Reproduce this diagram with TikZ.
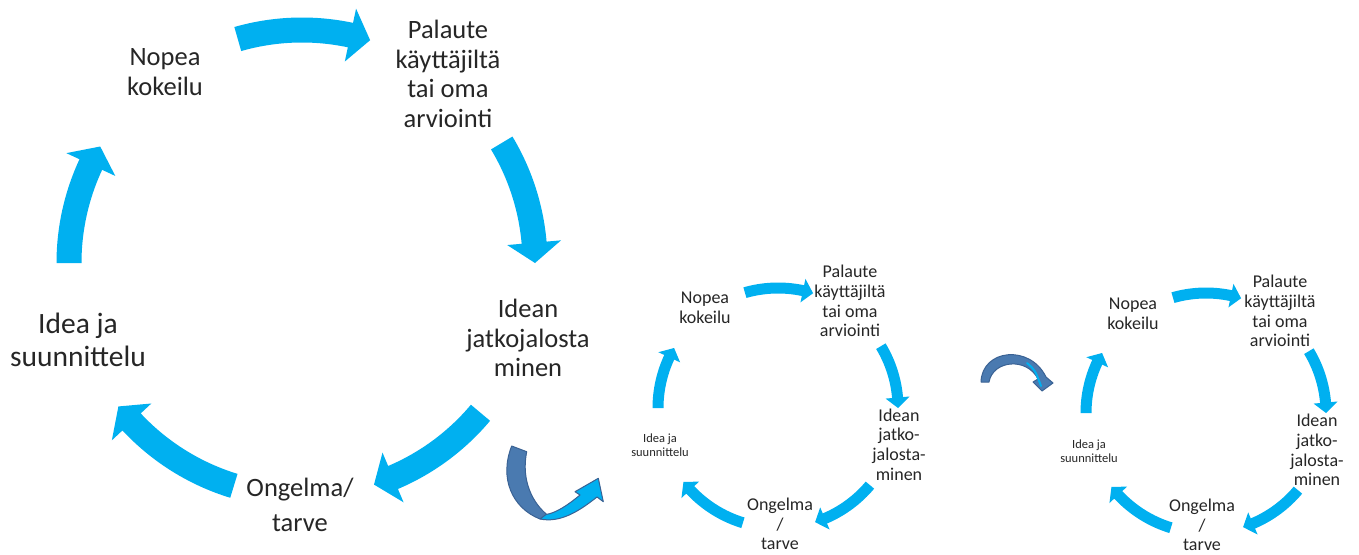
\documentclass[tikz,border=0pt]{standalone}
\usepackage{fontspec}
\setmainfont{Carlito}
\definecolor{arrcyan}{RGB}{0,176,240}
\definecolor{arrdark}{RGB}{74,122,176}
\definecolor{arrline}{RGB}{58,98,148}
\definecolor{txtcol}{RGB}{38,38,38}
% #1 center, #2 radius, #3 half band width, #4 start angle, #5 tip angle, #6 head length (deg), #7 half head width
\newcommand\cycArrow[7]{%
  \pgfmathsetmacro\cyRo{#2+#3}%
  \pgfmathsetmacro\cyRi{#2-#3}%
  \pgfmathsetmacro\cyHo{#2+#7}%
  \pgfmathsetmacro\cyHi{#2-#7}%
  \pgfmathsetmacro\cyB{#5-#6}%
  \fill[arrcyan,shift={#1}] (#4:\cyRo) arc[start angle=#4,end angle=\cyB,radius=\cyRo]
    -- (\cyB:\cyHo) -- (#5:#2) -- (\cyB:\cyHi) -- (\cyB:\cyRi)
    arc[start angle=\cyB,end angle=#4,radius=\cyRi] -- cycle;}
\tikzset{
  bigtxt/.style={font=\fontsize{26.5}{29.5}\selectfont, align=center, inner sep=0pt, text=txtcol},
  largetxt/.style={font=\fontsize{29.5}{32.5}\selectfont, align=center, inner sep=0pt, text=txtcol},
  midtxt/.style={font=\fontsize{18}{19.7}\selectfont, align=center, inner sep=0pt, text=txtcol},
  tinytxt/.style={font=\fontsize{12.5}{14}\selectfont, align=center, inner sep=0pt, text=txtcol},
  darkarrow/.style={fill=arrdark, draw=arrline, line width=1pt, line join=round},
  lightarrow/.style={fill=arrcyan, draw=arrline, line width=1pt, line join=round}
}
\begin{document}
\begin{tikzpicture}[x=1pt,y=-1pt]
\useasboundingbox (0,0) rectangle (1359,554);
\fill[white] (0,0) rectangle (1359,554);

% ---- big cycle
\cycArrow{(302,263)}{233}{12.5}{180}{210}{5}{27}
\cycArrow{(302,263)}{233}{12.5}{254}{287}{5}{27}
\cycArrow{(302,263)}{233}{12.5}{329}{360}{5}{27}
\cycArrow{(302,263)}{233}{12.5}{40}{72}{5}{27}
\cycArrow{(302,263)}{233}{12.5}{107}{142}{5}{27}

\node[bigtxt] (bnopea) at (165,72) {Nopea\\kokeilu};
\node[bigtxt] (bpal) at (448,74) {Palaute\\käyttäjiltä\\tai oma\\arviointi};
\node[bigtxt] (bidean) at (528,338) {Idean\\jatkojalosta\\minen};
\node[bigtxt] (bong) at (300,505) {Ongelma/\\[6pt]tarve};
\node[largetxt] (bidea) at (78,340) {Idea ja\\suunnittelu};

% ---- small cycle 1
\cycArrow{(778,408)}{120}{5.5}{180}{210}{5}{12}
\cycArrow{(778,408)}{120}{5.5}{254}{287}{5}{12}
\cycArrow{(778,408)}{120}{5.5}{329}{360}{5}{12}
\cycArrow{(778,408)}{120}{5.5}{40}{72}{5}{12}
\cycArrow{(778,408)}{120}{5.5}{107}{142}{5}{12}

\node[midtxt] (anopea) at (705,307.5) {Nopea\\kokeilu};
\node[midtxt] (apal) at (850,301) {Palaute\\käyttäjiltä\\tai oma\\arviointi};
\node[midtxt] (aidean) at (899,444.5) {Idean\\jatko-\\jalosta-\\minen};
\node[midtxt] (aong) at (780,524) {Ongelma\\/\\tarve};
\node[tinytxt] (aidea) at (660,445) {Idea ja\\suunnittelu};

% ---- small cycle 2
\cycArrow{(1206,413)}{120}{5.5}{180}{210}{5}{12}
\cycArrow{(1206,413)}{120}{5.5}{254}{287}{5}{12}
\cycArrow{(1206,413)}{120}{5.5}{329}{360}{5}{12}
\cycArrow{(1206,413)}{120}{5.5}{40}{72}{5}{12}
\cycArrow{(1206,413)}{120}{5.5}{107}{142}{5}{12}

\node[midtxt] (cnopea) at (1133,314) {Nopea\\kokeilu};
\node[midtxt] (cpal) at (1280,311) {Palaute\\käyttäjiltä\\tai oma\\arviointi};
\node[midtxt] (cidean) at (1317,450) {Idean\\jatko-\\jalosta-\\minen};
\node[midtxt] (cong) at (1202,525) {Ongelma\\/\\tarve};
\node[tinytxt] (cidea) at (1089,451) {Idea ja\\suunnittelu};

% ---- dark curved arrow 1 (U-turn)
\path[darkarrow] (511.7,446) .. controls (499,478) and (512,508) .. (540,519)
  -- (550,517) .. controls (532,504) and (521,480) .. (526.7,451.7) -- cycle;
\path[lightarrow] (540,519) .. controls (560,523) and (578,512) .. (597,497)
  -- (603.3,501.7) -- (598.3,478.3) -- (575,491.7) -- (580,495)
  .. controls (568,505) and (556,513) .. (546,514.5) -- cycle;

% ---- dark curved arrow 2 (arc)
\path[darkarrow] (981,382) .. controls (982,349) and (1030,344) .. (1046,377)
  -- (1053,383) -- (1042,391) -- (1033,382) -- (1038,379)
  .. controls (1027,357) and (993,360) .. (989,382) -- cycle;
\draw[arrcyan, line width=2pt, line cap=round] (1027,363) .. controls (1035,370) .. (1041,386);
\end{tikzpicture}
\end{document}
